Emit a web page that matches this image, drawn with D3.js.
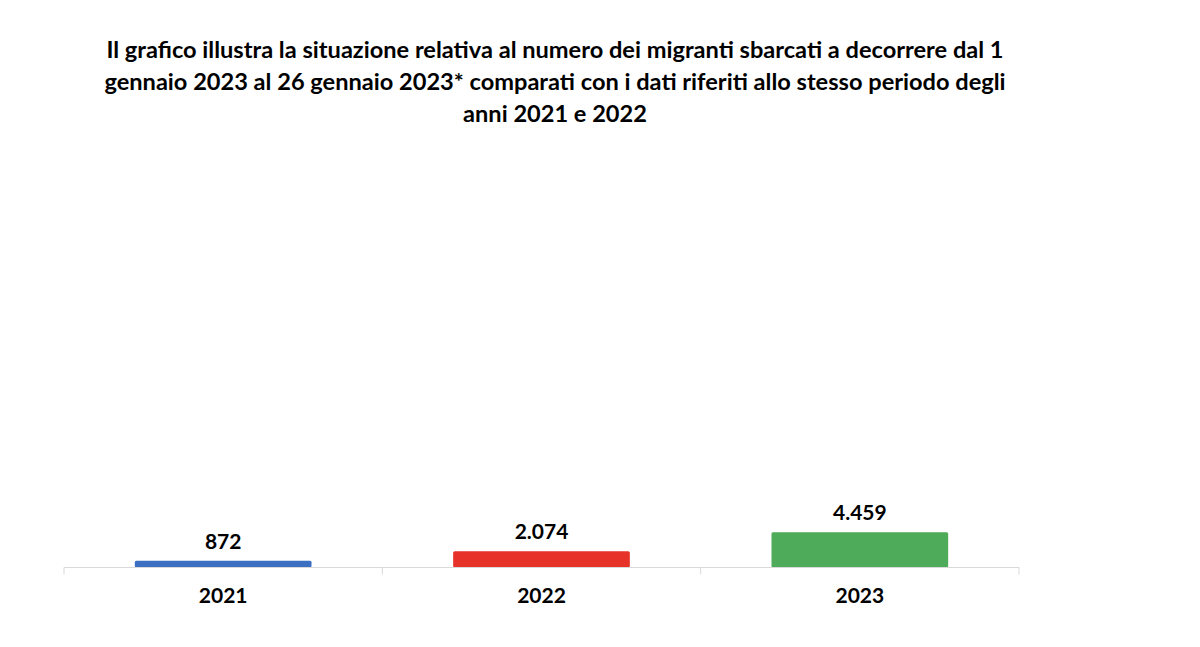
<!DOCTYPE html>
<html>
<head>
<meta charset="utf-8">
<script src="https://cdn.jsdelivr.net/npm/d3@7"></script>
<style>
  body { margin: 0; background: #fff; }
  svg { font-family: Lato, "Open Sans", sans-serif; }
</style>
</head>
<body>
<svg id="chart" width="1200" height="647"></svg>
<script>
// Data
var years = ["2021", "2022", "2023"];
var sbarcati = [872, 2074, 4459];
var barColors = ["#3a6fc2", "#e63228", "#4dab5a"];
var titleLines = [
    "Il grafico illustra la situazione relativa al numero dei migranti sbarcati a decorrere dal 1",
    "gennaio 2023 al 26 gennaio 2023* comparati con i dati riferiti allo stesso periodo degli",
    "anni 2021 e 2022"
];

var svg = d3.select("#chart");

// Title
svg.append("g").selectAll("text")
    .data(titleLines)
    .join("text")
    .attr("x", 555)
    .attr("y", (d, i) => 58 + i * 32)
    .attr("text-anchor", "middle")
    .attr("font-size", 23.6)
    .attr("font-weight", "bold")
    .attr("fill", "#000")
    .text(d => d);

// Scales
var x = d3.scaleBand()
    .domain(years)
    .range([64, 1019])
    .paddingInner(0.445)
    .paddingOuter(0.2225);

var y = d3.scaleLinear()
    .domain([0, 53000])
    .range([567.5, 150]);

// Bars
svg.append("g").selectAll("rect")
    .data(years)
    .join("rect")
    .attr("x", d => x(d))
    .attr("y", (d, i) => y(sbarcati[i]))
    .attr("width", x.bandwidth())
    .attr("height", (d, i) => y(0) - y(sbarcati[i]))
    .attr("rx", 1.5)
    .attr("fill", (d, i) => barColors[i]);

// Value labels (Italian thousands separator)
var fmt = d3.formatLocale({ decimal: ",", thousands: ".", grouping: [3], currency: ["", "€"] }).format(",d");
svg.append("g").selectAll("text")
    .data(years)
    .join("text")
    .attr("x", d => x(d) + x.bandwidth() / 2)
    .attr("y", (d, i) => y(sbarcati[i]) - 12)
    .attr("text-anchor", "middle")
    .attr("font-size", 21)
    .attr("font-weight", "bold")
    .text((d, i) => fmt(sbarcati[i]));

// Axis: line plus ticks at band boundaries
var axis = svg.append("g");
axis.append("line")
    .attr("x1", 64).attr("x2", 1019)
    .attr("y1", y(0)).attr("y2", y(0))
    .attr("stroke", "#d9d9d9")
    .attr("stroke-width", 1);

var bounds = d3.range(years.length + 1).map(i => 64 + i * (1019 - 64) / years.length);
axis.selectAll("line.tick")
    .data(bounds)
    .join("line")
    .attr("class", "tick")
    .attr("x1", d => d).attr("x2", d => d)
    .attr("y1", y(0)).attr("y2", y(0) + 7)
    .attr("stroke", "#d9d9d9");

// Category labels
axis.selectAll("text")
    .data(years)
    .join("text")
    .attr("x", d => x(d) + x.bandwidth() / 2)
    .attr("y", 603)
    .attr("text-anchor", "middle")
    .attr("font-size", 21)
    .attr("font-weight", "bold")
    .text(d => d);
</script>
</body>
</html>
